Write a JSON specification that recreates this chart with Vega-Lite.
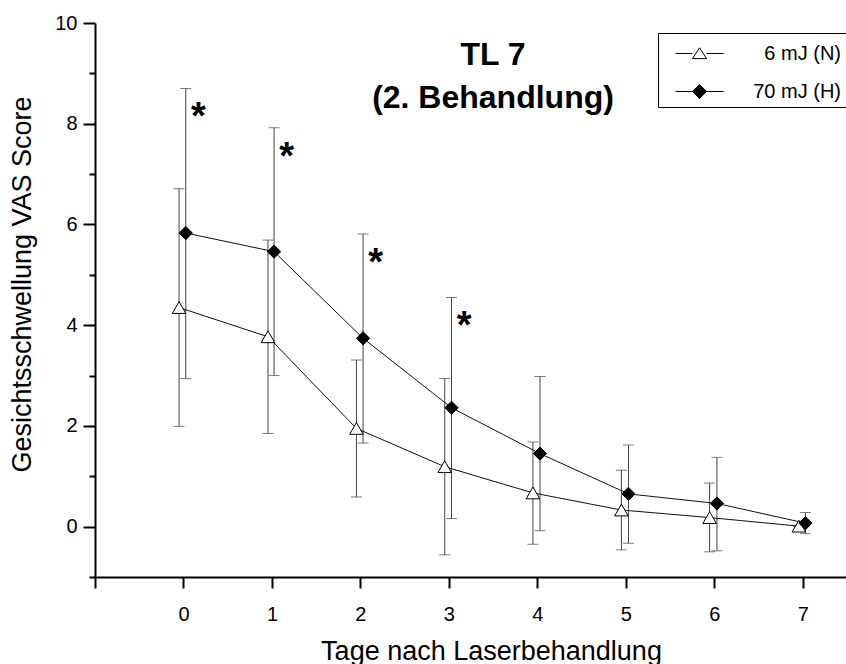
{
  "$schema": "https://vega.github.io/schema/vega-lite/v6.json",
  "width": 752,
  "height": 554,
  "autosize": {"type": "none"},
  "padding": {"left": 95, "top": 23, "right": 0, "bottom": 87},
  "background": "white",
  "title": {
    "text": ["TL 7", "(2. Behandlung)"],
    "font": "Liberation Sans",
    "fontSize": 32,
    "fontWeight": "bold",
    "color": "black",
    "anchor": "middle",
    "frame": "group",
    "baseline": "top",
    "lineHeight": 43,
    "offset": 0,
    "dx": 22,
    "dy": 102
  },
  "data": {
    "values": [
      {"series": "6 mJ (N)", "day": 0, "x": -0.05, "y": 4.35, "lo": 1.99, "hi": 6.71, "sig": ""},
      {"series": "6 mJ (N)", "day": 1, "x": 0.955, "y": 3.77, "lo": 1.85, "hi": 5.69, "sig": ""},
      {"series": "6 mJ (N)", "day": 2, "x": 1.955, "y": 1.95, "lo": 0.59, "hi": 3.31, "sig": ""},
      {"series": "6 mJ (N)", "day": 3, "x": 2.953, "y": 1.19, "lo": -0.56, "hi": 2.94, "sig": ""},
      {"series": "6 mJ (N)", "day": 4, "x": 3.95, "y": 0.67, "lo": -0.35, "hi": 1.68, "sig": ""},
      {"series": "6 mJ (N)", "day": 5, "x": 4.95, "y": 0.33, "lo": -0.46, "hi": 1.12, "sig": ""},
      {"series": "6 mJ (N)", "day": 6, "x": 5.947, "y": 0.18, "lo": -0.5, "hi": 0.865, "sig": ""},
      {"series": "6 mJ (N)", "day": 7, "x": 6.956, "y": 0.01, "lo": 0.01, "hi": 0.01, "sig": ""},
      {"series": "70 mJ (H)", "day": 0, "x": 0.026, "y": 5.83, "lo": 2.94, "hi": 8.7, "sig": "*"},
      {"series": "70 mJ (H)", "day": 1, "x": 1.024, "y": 5.46, "lo": 3.0, "hi": 7.92, "sig": "*"},
      {"series": "70 mJ (H)", "day": 2, "x": 2.03, "y": 3.74, "lo": 1.66, "hi": 5.81, "sig": "*"},
      {"series": "70 mJ (H)", "day": 3, "x": 3.03, "y": 2.36, "lo": 0.16, "hi": 4.55, "sig": "*"},
      {"series": "70 mJ (H)", "day": 4, "x": 4.03, "y": 1.45, "lo": -0.08, "hi": 2.98, "sig": ""},
      {"series": "70 mJ (H)", "day": 5, "x": 5.03, "y": 0.65, "lo": -0.33, "hi": 1.62, "sig": ""},
      {"series": "70 mJ (H)", "day": 6, "x": 6.03, "y": 0.46, "lo": -0.48, "hi": 1.375, "sig": ""},
      {"series": "70 mJ (H)", "day": 7, "x": 7.03, "y": 0.07, "lo": -0.14, "hi": 0.28, "sig": ""}
    ]
  },
  "layer": [
    {
      "mark": {"type": "rule", "color": "#444", "strokeWidth": 1},
      "encoding": {
        "x": {
          "field": "x", "type": "quantitative",
          "scale": {"domain": [-1, 7.5], "nice": false, "zero": false},
          "axis": {
            "values": [-1, 0, 1, 2, 3, 4, 5, 6, 7],
            "format": "d",
            "labelExpr": "datum.value < 0 ? '' : datum.label",
            "grid": false,
            "domainColor": "black", "domainWidth": 2,
            "tickColor": "black", "tickWidth": 2, "tickSize": 11,
            "labelFont": "Liberation Sans", "labelFontSize": 20, "labelColor": "black",
            "labelPadding": 16,
            "title": "Tage nach Laserbehandlung",
            "titleFont": "Liberation Sans", "titleFontSize": 27, "titleFontWeight": "normal",
            "titleColor": "black",
            "titleX": 396, "titleY": 82, "titleBaseline": "alphabetic", "titleAnchor": "middle", "titleAlign": "center"
          }
        },
        "y": {
          "field": "lo", "type": "quantitative",
          "scale": {"domain": [-1, 10], "nice": false, "zero": false},
          "axis": {
            "orient": "left",
            "values": [0, 2, 4, 6, 8, 10],
            "format": "d",
            "grid": false,
            "domainColor": "black", "domainWidth": 2,
            "tickColor": "black", "tickWidth": 2, "tickSize": 12,
            "labelFont": "Liberation Sans", "labelFontSize": 20, "labelColor": "black",
            "labelPadding": 6,
            "title": "Gesichtsschwellung VAS Score",
            "titleFont": "Liberation Sans", "titleFontSize": 27, "titleFontWeight": "normal",
            "titleColor": "black",
            "titleX": -73, "titleY": 261, "titleAngle": -90, "titleBaseline": "middle", "titleAlign": "center"
          }
        },
        "y2": {"field": "hi"}
      }
    },
    {
      "mark": {"type": "tick", "orient": "horizontal", "color": "#444", "thickness": 1, "size": 11},
      "encoding": {
        "x": {"field": "x", "type": "quantitative"},
        "y": {
          "field": "lo", "type": "quantitative",
          "axis": {
            "orient": "left",
            "values": [-1, 1, 3, 5, 7, 9],
            "grid": false, "domain": false, "labels": false,
            "tickColor": "black", "tickWidth": 2, "tickSize": 6,
            "title": null
          }
        }
      }
    },
    {
      "mark": {"type": "tick", "orient": "horizontal", "color": "#444", "thickness": 1, "size": 11},
      "encoding": {
        "x": {"field": "x", "type": "quantitative"},
        "y": {"field": "hi", "type": "quantitative", "axis": null}
      }
    },
    {
      "mark": {"type": "line", "color": "#111", "strokeWidth": 1},
      "encoding": {
        "x": {"field": "x", "type": "quantitative"},
        "y": {"field": "y", "type": "quantitative", "axis": null},
        "detail": {"field": "series"}
      }
    },
    {
      "transform": [{"filter": "datum.series === '6 mJ (N)'"}],
      "mark": {"type": "point", "shape": "triangle-up", "filled": true, "fill": "white", "stroke": "black", "strokeWidth": 1, "opacity": 1, "size": 185},
      "encoding": {
        "x": {"field": "x", "type": "quantitative"},
        "y": {"field": "y", "type": "quantitative", "axis": null}
      }
    },
    {
      "transform": [{"filter": "datum.series === '70 mJ (H)'"}],
      "mark": {"type": "point", "shape": "diamond", "filled": true, "fill": "black", "stroke": "black", "strokeWidth": 1, "opacity": 1, "size": 175},
      "encoding": {
        "x": {"field": "x", "type": "quantitative"},
        "y": {"field": "y", "type": "quantitative", "axis": null}
      }
    },
    {
      "transform": [{"filter": "datum.day > 100"}],
      "mark": {"type": "point", "filled": true, "strokeWidth": 1, "opacity": 1, "size": 900},
      "encoding": {
        "x": {"field": "x", "type": "quantitative"},
        "y": {"field": "y", "type": "quantitative", "axis": null},
        "shape": {
          "field": "series", "type": "nominal",
          "scale": {
            "domain": ["6 mJ (N)", "70 mJ (H)"],
            "range": [
              "M-1.6,0H-0.47M0.47,0H1.6M0,-0.38L0.47,0.34L-0.47,0.34Z",
              "M-1.6,0H-0.47M0.47,0H1.6M0,-0.47L0.47,0L0,0.47L-0.47,0Z"
            ]
          },
          "legend": {
            "orient": "none", "legendX": 563, "legendY": 10,
            "title": null,
            "strokeColor": "black", "fillColor": "white",
            "padding": 5,
            "symbolSize": 900,
            "rowPadding": 12,
            "symbolOffset": 21,
            "labelOffset": 126,
            "labelAlign": "right",
            "labelFont": "Liberation Sans", "labelFontSize": 20, "labelColor": "black",
            "symbolStrokeWidth": 1
          }
        },
        "fill": {
          "field": "series", "type": "nominal",
          "scale": {"domain": ["6 mJ (N)", "70 mJ (H)"], "range": ["white", "black"]}
        },
        "stroke": {
          "field": "series", "type": "nominal",
          "scale": {"domain": ["6 mJ (N)", "70 mJ (H)"], "range": ["black", "black"]}
        }
      }
    },
    {
      "mark": {"type": "text", "font": "Liberation Sans", "fontWeight": "bold", "fontSize": 38, "color": "black", "align": "center", "baseline": "alphabetic", "dx": 12.5, "dy": 41},
      "encoding": {
        "x": {"field": "x", "type": "quantitative"},
        "y": {"field": "hi", "type": "quantitative", "axis": null},
        "text": {"field": "sig"}
      }
    }
  ],
  "resolve": {"axis": {"y": "independent"}},
  "config": {
    "view": {"stroke": null}
  }
}
